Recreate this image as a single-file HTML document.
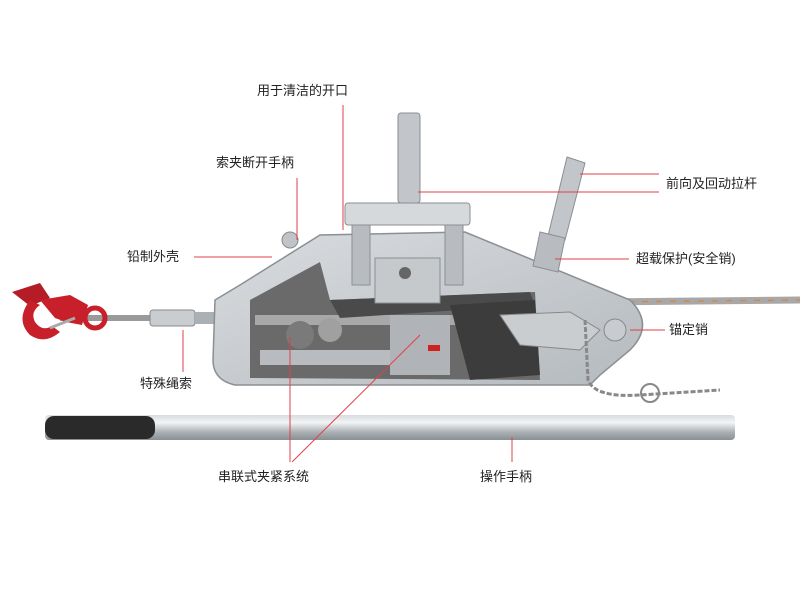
<!DOCTYPE html>
<html><head><meta charset="utf-8"><style>
body{margin:0;background:#fff;width:800px;height:600px;overflow:hidden;position:relative;font-family:"Liberation Sans","Noto Sans CJK SC",sans-serif}
.t{position:absolute;font-size:13px;color:#222;white-space:nowrap;line-height:1}
</style></head><body>
<svg width="800" height="600" style="position:absolute;left:0;top:0">
<defs>
<linearGradient id="tube" x1="0" y1="0" x2="0" y2="1"><stop offset="0" stop-color="#d8dcdf"/><stop offset=".3" stop-color="#f2f4f5"/><stop offset=".7" stop-color="#a9aeb2"/><stop offset="1" stop-color="#8a8f93"/></linearGradient>
<linearGradient id="met" x1="0" y1="0" x2="1" y2="1"><stop offset="0" stop-color="#d9dcdf"/><stop offset="1" stop-color="#b5babe"/></linearGradient>
</defs>
<line x1="60" y1="318" x2="240" y2="318" stroke="#9a9a9a" stroke-width="6"/>
<line x1="600" y1="302" x2="800" y2="300" stroke="#a8a8a8" stroke-width="7"/>
<line x1="600" y1="302" x2="800" y2="300" stroke="#d08a50" stroke-width="1.5" stroke-dasharray="6 8"/>
<!-- hook -->
<path d="M12 292 L40 283 L50 298 L30 306 Z" fill="#b51c25"/>
<path d="M30 300 Q15 320 30 335 Q45 345 60 332 L52 326 Q42 332 35 322 Q30 312 40 305 Z" fill="#c8202a"/>
<path d="M40 300 L70 295 L88 305 L82 325 L66 322 L55 318 Z" fill="#c8202a"/>
<circle cx="95" cy="318" r="10" fill="none" stroke="#c8202a" stroke-width="5"/>
<line x1="50" y1="328" x2="75" y2="318" stroke="#aaa" stroke-width="3"/>
<rect x="150" y="310" width="45" height="16" rx="3" fill="#c9cdd0" stroke="#888"/>
<rect x="195" y="312" width="20" height="12" fill="#aab0b4"/>
<!-- body -->
<path d="M215 300 L240 285 L320 235 L465 232 L630 300 Q655 325 630 350 L600 375 L590 385 L235 385 Q213 380 213 360 Z" fill="url(#met)" stroke="#8a8f93" stroke-width="1.5"/>
<path d="M250 300 L320 262 L330 300 L535 292 L540 380 L250 378 Z" fill="#6a6a6a"/>
<rect x="255" y="315" width="250" height="10" fill="#a8a8a8"/>
<path d="M330 300 L530 292 L535 305 L340 318 Z" fill="#4a4a4a"/>
<rect x="260" y="350" width="170" height="15" fill="#b8bcc0"/>
<rect x="390" y="315" width="60" height="60" fill="#b0b4b8"/>
<rect x="428" y="345" width="12" height="6" fill="#d02020"/>
<path d="M450 305 L535 300 L540 375 L470 380 Z" fill="#3c3c3c"/>
<circle cx="300" cy="335" r="14" fill="#7a7a7a"/><circle cx="330" cy="330" r="12" fill="#a0a0a0"/>
<path d="M500 315 L570 312 L600 330 L580 350 L520 345 Z" fill="#c9cdd0" stroke="#888"/>
<circle cx="615" cy="330" r="11" fill="#c8ccd0" stroke="#888"/>
<circle cx="290" cy="240" r="8" fill="#c0c4c8" stroke="#888"/>
<!-- levers -->
<rect x="398" y="113" width="22" height="90" rx="3" fill="#c2c6ca" stroke="#8a8f93"/>
<rect x="345" y="203" width="125" height="22" rx="3" fill="#d6d9dc" stroke="#8a8f93"/>
<rect x="352" y="225" width="18" height="60" fill="#b8bcc0" stroke="#8a8f93"/>
<rect x="445" y="225" width="18" height="60" fill="#b8bcc0" stroke="#8a8f93"/>
<rect x="375" y="258" width="65" height="45" fill="#c5c9cc" stroke="#8a8f93"/>
<circle cx="405" cy="273" r="6" fill="#666"/>
<path d="M567 157 L585 163 L565 240 L548 236 Z" fill="#c2c6ca" stroke="#8a8f93"/>
<path d="M540 232 L565 238 L558 272 L533 266 Z" fill="#b8bcc0" stroke="#8a8f93"/>
<!-- chain -->
<path d="M585 320 L588 380 Q595 398 640 395 L720 390" fill="none" stroke="#888" stroke-width="3" stroke-dasharray="5 2"/>
<circle cx="650" cy="393" r="9" fill="none" stroke="#888" stroke-width="2"/>
<!-- handle -->
<rect x="45" y="415" width="690" height="25" rx="4" fill="url(#tube)"/>
<rect x="45" y="416" width="110" height="23" rx="9" fill="#2a2a2a"/>
<g stroke="#e0404a" stroke-width="1" fill="none">
<line x1="343" y1="105" x2="343" y2="230"/>
<line x1="297" y1="178" x2="297" y2="240"/>
<line x1="580" y1="174" x2="659" y2="174"/>
<line x1="418" y1="192" x2="659" y2="192"/>
<line x1="194" y1="257" x2="272" y2="257"/>
<line x1="555" y1="259" x2="629" y2="259"/>
<line x1="630" y1="330" x2="665" y2="330"/>
<line x1="183" y1="330" x2="183" y2="372"/>
<line x1="290" y1="337" x2="290" y2="462"/>
<line x1="292" y1="462" x2="420" y2="335"/>
<line x1="512" y1="437" x2="512" y2="462"/>
</g>
</svg>
<div class="t" style="left:257px;top:84px">用于清洁的开口</div>
<div class="t" style="left:216px;top:156px">索夹断开手柄</div>
<div class="t" style="left:666px;top:177px">前向及回动拉杆</div>
<div class="t" style="left:127px;top:250px">铅制外壳</div>
<div class="t" style="left:636px;top:252px">超载保护(安全销)</div>
<div class="t" style="left:669px;top:323px">锚定销</div>
<div class="t" style="left:140px;top:377px">特殊绳索</div>
<div class="t" style="left:218px;top:470px">串联式夹紧系统</div>
<div class="t" style="left:480px;top:470px">操作手柄</div>
</body></html>
